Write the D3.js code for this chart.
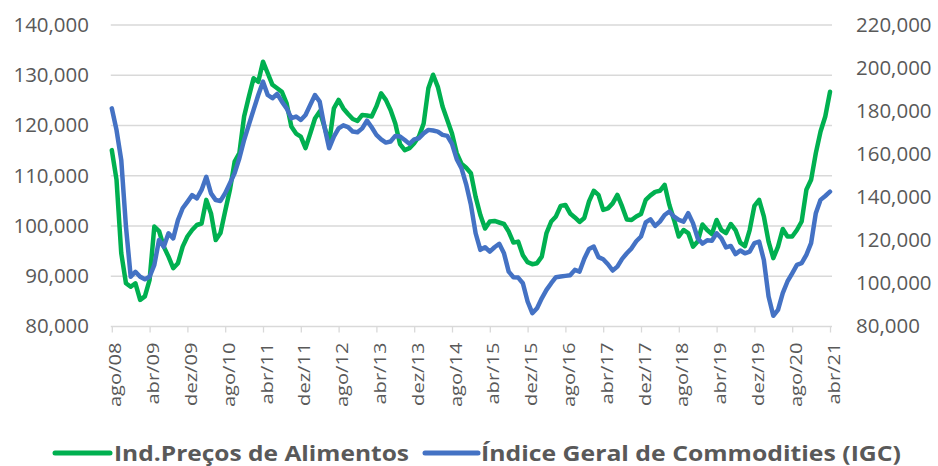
<!DOCTYPE html>
<html>
<head>
<meta charset="utf-8">
<script src="https://cdn.jsdelivr.net/npm/d3@7"></script>
<style>
  body { margin: 0; background: #fff; }
  .chart text { font-family: "Open Sans", "Liberation Sans", sans-serif; fill: #595959; }
</style>
</head>
<body>
<div class="chart"></div>
<script>
// Ind. Preços de Alimentos (eixo esquerdo), mensal ago/08 .. abr/21
const alimentos = [
  115.1, 109.2, 94.6, 88.6, 87.9, 88.6, 85.3, 86.0, 89.3, 99.9,
  99.0, 95.9, 93.9, 91.6, 92.6, 95.9, 97.9, 99.2, 100.2, 100.5,
  105.2, 102.5, 97.2, 98.6, 103.0, 107.2, 112.8, 114.5, 121.8, 125.7,
  129.4, 128.7, 132.7, 130.4, 128.1, 127.4, 126.7, 124.4, 119.8, 118.4,
  117.8, 115.5, 118.4, 121.4, 122.8, 119.8, 116.5, 123.4, 125.1, 123.4,
  122.3, 121.3, 120.9, 122.1, 122.0, 121.8, 123.8, 126.4, 125.1, 123.1,
  120.4, 116.3, 115.1, 115.5, 116.5, 117.8, 120.4, 127.4, 130.1, 127.7,
  123.8, 121.1, 118.4, 114.5, 112.4, 111.6, 110.5, 105.8, 102.2, 99.5,
  100.9, 101.0, 100.7, 100.4, 98.9, 96.7, 96.9, 94.2, 92.8, 92.4,
  92.6, 93.9, 98.6, 100.9, 101.9, 104.0, 104.2, 102.5, 101.7, 100.8,
  101.6, 104.9, 107.0, 106.2, 103.2, 103.5, 104.5, 106.2, 103.9, 101.3,
  101.2, 101.9, 102.4, 105.2, 106.1, 106.8, 107.0, 108.2, 104.2, 101.2,
  97.9, 99.2, 98.6, 95.9, 96.9, 100.3, 99.2, 98.4, 101.2, 99.2,
  98.6, 100.4, 99.2, 96.7, 96.0, 99.2, 104.0, 105.2, 101.9, 96.9,
  93.6, 95.9, 99.4, 97.9, 97.9, 99.2, 100.9, 107.2, 109.2, 114.5,
  118.8, 121.8, 126.7
].map(v => v * 1000);

// Índice Geral de Commodities (eixo direito)
const igc = [
  181.3, 171.2, 157.3, 126.3, 103.1, 105.4, 103.1, 101.9, 103.1, 108.6,
  120.2, 117.0, 123.3, 120.9, 129.4, 134.9, 137.9, 141.0, 139.5, 143.4,
  149.5, 141.8, 138.7, 138.3, 141.9, 146.5, 151.2, 158.1, 166.6, 173.6,
  180.6, 187.5, 193.7, 187.5, 186.0, 188.0, 184.4, 181.3, 176.7, 177.5,
  175.9, 178.2, 182.9, 187.5, 184.4, 172.8, 162.8, 168.2, 172.0, 173.4,
  172.6, 170.5, 170.2, 172.0, 175.6, 172.5, 169.0, 166.9, 165.4, 165.9,
  168.5, 168.2, 166.6, 164.8, 166.9, 167.4, 169.7, 171.3, 171.0, 170.5,
  169.0, 168.5, 164.8, 157.7, 153.5, 146.0, 136.5, 123.3, 115.6, 116.8,
  114.8, 116.8, 118.4, 114.0, 105.5, 102.9, 102.7, 100.1, 91.6, 86.2,
  88.5, 93.1, 97.0, 100.1, 102.9, 103.2, 103.5, 103.8, 106.3, 105.5,
  111.5, 116.0, 117.1, 112.2, 111.2, 108.9, 106.0, 107.8, 111.4, 114.0,
  116.3, 119.6, 121.8, 128.3, 129.8, 126.7, 128.7, 131.8, 133.4, 131.0,
  129.5, 128.7, 132.6, 128.0, 121.0, 118.5, 120.0, 119.8, 123.3, 121.0,
  116.7, 117.4, 113.6, 115.3, 114.0, 114.8, 118.7, 119.4, 110.9, 93.9,
  85.0, 87.7, 95.5, 100.9, 104.7, 108.6, 109.4, 113.3, 118.7, 132.6,
  138.8, 140.6, 142.6
].map(v => v * 1000);

const tickLabels = [
  "ago/08", "abr/09", "dez/09", "ago/10", "abr/11", "dez/11", "ago/12",
  "abr/13", "dez/13", "ago/14", "abr/15", "dez/15", "ago/16", "abr/17",
  "dez/17", "ago/18", "abr/19", "dez/19", "ago/20", "abr/21"
];
const tickStep = 8; // meses entre rótulos
const leftTicks = [80000, 90000, 100000, 110000, 120000, 130000, 140000];
const rightTicks = [80000, 100000, 120000, 140000, 160000, 180000, 200000, 220000];
const seriesNames = ["Ind.Preços de Alimentos", "Índice Geral de Commodities (IGC)"];
const colors = ["#00B050", "#4472C4"];

const width = 938, height = 466;
const plot = { left: 111.8, right: 830, top: 25, bottom: 326.5 };

const svg = d3.select(".chart")
  .append("svg")
  .attr("width", width)
  .attr("height", height);

const x = d3.scaleLinear()
  .domain([0, alimentos.length - 1])
  .range([plot.left, plot.right]);

const yLeft = d3.scaleLinear()
  .domain([80000, 140000])
  .range([plot.bottom, plot.top]);

const yRight = d3.scaleLinear()
  .domain([80000, 220000])
  .range([plot.bottom, plot.top]);

const fmt = d3.format(",");

// grade horizontal
svg.append("g")
  .selectAll("line")
  .data(leftTicks.slice(1))
  .join("line")
  .attr("x1", plot.left - 1)
  .attr("x2", plot.right + 2)
  .attr("y1", d => yLeft(d))
  .attr("y2", d => yLeft(d))
  .attr("stroke", "#D9D9D9")
  .attr("stroke-width", 1.3);

// eixo x
const xAxis = svg.append("g")
  .attr("transform", "translate(0," + plot.bottom + ")")
  .call(d3.axisBottom(x)
    .tickValues(tickLabels.map((d, i) => i * tickStep))
    .tickFormat((d, i) => tickLabels[i])
    .tickSizeInner(6)
    .tickSizeOuter(0));

xAxis.select(".domain")
  .attr("stroke", "#D9D9D9")
  .attr("stroke-width", 1.3)
  .attr("d", "M" + (plot.left - 1) + ",0H" + (plot.right + 2));
xAxis.selectAll(".tick line").attr("stroke", "#D9D9D9").attr("stroke-width", 1.3);
xAxis.selectAll(".tick text")
  .attr("font-size", 16.5)
  .attr("text-anchor", "end")
  .attr("dy", null)
  .attr("y", 0)
  .attr("transform", "translate(9,16) rotate(-90) scale(1.22,1)");

// eixo esquerdo
const yAxisL = svg.append("g")
  .attr("transform", "translate(89,0)")
  .call(d3.axisLeft(yLeft).tickValues(leftTicks).tickFormat(fmt).tickSize(0));
yAxisL.select(".domain").remove();

// eixo direito
const yAxisR = svg.append("g")
  .attr("transform", "translate(856,0)")
  .call(d3.axisRight(yRight).tickValues(rightTicks).tickFormat(fmt).tickSize(0));
yAxisR.select(".domain").remove();

// estica levemente os números como no original
[yAxisL, yAxisR].forEach(g => {
  g.selectAll("text")
    .attr("font-size", 19.5)
    .attr("x", 0)
    .each(function () {
      const w = this.getComputedTextLength();
      d3.select(this).attr("textLength", w * 1.05).attr("lengthAdjust", "spacingAndGlyphs");
    });
});

const lineL = d3.line()
  .x((d, i) => x(i))
  .y(d => yLeft(d));

const lineR = d3.line()
  .x((d, i) => x(i))
  .y(d => yRight(d));

svg.append("path")
  .datum(alimentos)
  .attr("fill", "none")
  .attr("stroke", colors[0])
  .attr("stroke-width", 4.5)
  .attr("stroke-linejoin", "round")
  .attr("stroke-linecap", "round")
  .attr("d", lineL);

svg.append("path")
  .datum(igc)
  .attr("fill", "none")
  .attr("stroke", colors[1])
  .attr("stroke-width", 4.5)
  .attr("stroke-linejoin", "round")
  .attr("stroke-linecap", "round")
  .attr("d", lineR);

// legenda
const legendPos = [
  { x1: 55, x2: 110, tx: 114, len: 295 },
  { x1: 425, x2: 478, tx: 481, len: 420 }
];
const legend = svg.append("g").attr("transform", "translate(0,453)");

legend.selectAll("line")
  .data(seriesNames)
  .join("line")
  .attr("x1", (d, i) => legendPos[i].x1)
  .attr("x2", (d, i) => legendPos[i].x2)
  .attr("stroke", (d, i) => colors[i])
  .attr("stroke-width", 5)
  .attr("stroke-linecap", "round");

legend.selectAll("text")
  .data(seriesNames)
  .join("text")
  .attr("x", (d, i) => legendPos[i].tx)
  .attr("dy", "0.36em")
  .attr("font-size", 21)
  .attr("font-weight", 700)
  .attr("textLength", (d, i) => legendPos[i].len)
  .attr("lengthAdjust", "spacingAndGlyphs")
  .text(d => d);
</script>
</body>
</html>
